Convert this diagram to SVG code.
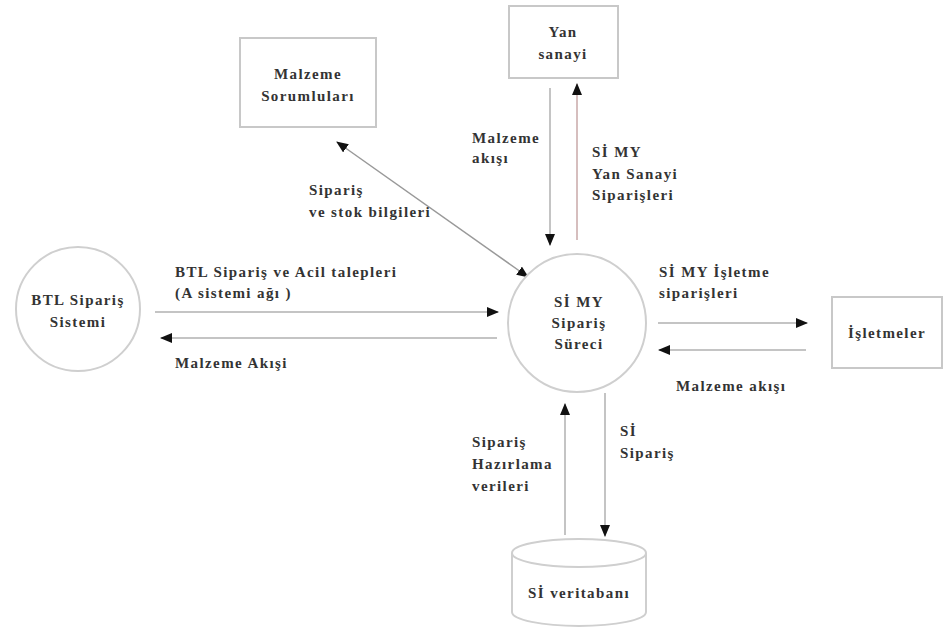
<svg xmlns="http://www.w3.org/2000/svg" width="947" height="631" viewBox="0 0 947 631">
  <style>
    .box { fill: #ffffff; stroke: #c8c8c8; stroke-width: 2; }
    .proc { fill: #ffffff; stroke: #cfcfcf; stroke-width: 2; }
    .flow { stroke: #b0b0b0; stroke-width: 1.5; fill: none; }
    .lbl { font-family: "Liberation Serif", "Times New Roman", serif; font-size: 15px; font-weight: bold; fill: #333333; letter-spacing: 1.4px; }
    .mid { text-anchor: middle; }
  </style>
  <defs>
    <marker id="ah" markerWidth="12" markerHeight="10" refX="11" refY="5" orient="auto" markerUnits="userSpaceOnUse">
      <path d="M0,0 L12,5 L0,10 Z" fill="#111"/>
    </marker>
    <marker id="ahs" markerWidth="12" markerHeight="10" refX="1" refY="5" orient="auto" markerUnits="userSpaceOnUse">
      <path d="M12,0 L0,5 L12,10 Z" fill="#111"/>
    </marker>
  </defs>
  <rect width="947" height="631" fill="#ffffff"/>

  <!-- connectors -->
  <g id="connectors">
    <line class="flow" x1="528" y1="277" x2="337" y2="142" marker-start="url(#ahs)" marker-end="url(#ah)" style="stroke:#999"/>
    <line class="flow" x1="550" y1="88" x2="550" y2="245" marker-end="url(#ah)"/>
    <line class="flow" x1="577" y1="240" x2="577" y2="84" marker-end="url(#ah)" style="stroke:#c9a8a8"/>
    <line class="flow" x1="155" y1="312" x2="498" y2="312" marker-end="url(#ah)"/>
    <line class="flow" x1="497" y1="338" x2="161" y2="338" marker-end="url(#ah)"/>
    <line class="flow" x1="658" y1="323" x2="807" y2="323" marker-end="url(#ah)"/>
    <line class="flow" x1="806" y1="350" x2="659" y2="350" marker-end="url(#ah)"/>
    <line class="flow" x1="565" y1="535" x2="565" y2="404" marker-end="url(#ah)"/>
    <line class="flow" x1="605" y1="393" x2="605" y2="536" marker-end="url(#ah)"/>
  </g>

  <!-- flow labels -->
  <g id="flow-labels">
    <text class="lbl" x="309" y="195">Sipariş</text>
    <text class="lbl" x="309" y="217">ve stok bilgileri</text>
    <text class="lbl" x="472" y="143">Malzeme</text>
    <text class="lbl" x="472" y="163">akışı</text>
    <text class="lbl" x="592" y="157">Sİ MY</text>
    <text class="lbl" x="592" y="179">Yan Sanayi</text>
    <text class="lbl" x="592" y="200">Siparişleri</text>
    <text class="lbl" x="175" y="277">BTL Sipariş  ve Acil talepleri</text>
    <text class="lbl" x="175" y="298">(A sistemi ağı )</text>
    <text class="lbl" x="175" y="368">Malzeme Akışi</text>
    <text class="lbl" x="659" y="277">Sİ MY  İşletme</text>
    <text class="lbl" x="659" y="298">siparişleri</text>
    <text class="lbl" x="676" y="391">Malzeme akışı</text>
    <text class="lbl" x="472" y="447">Sipariş</text>
    <text class="lbl" x="472" y="469">Hazırlama</text>
    <text class="lbl" x="472" y="491">verileri</text>
    <text class="lbl" x="620" y="436">Sİ</text>
    <text class="lbl" x="620" y="458">Sipariş</text>
  </g>

  <!-- nodes -->
  <g id="malzeme-sorumlulari">
    <rect class="box" x="240" y="38" width="136" height="89"/>
    <text class="lbl mid" x="308" y="79">Malzeme</text>
    <text class="lbl mid" x="308" y="101">Sorumluları</text>
  </g>

  <g id="yan-sanayi">
    <rect class="box" x="509" y="6" width="109" height="72"/>
    <text class="lbl mid" x="563" y="37">Yan</text>
    <text class="lbl mid" x="563" y="59">sanayi</text>
  </g>

  <g id="btl-siparis-sistemi">
    <circle class="proc" cx="78" cy="309" r="62"/>
    <text class="lbl mid" x="78" y="305">BTL Sipariş</text>
    <text class="lbl mid" x="78" y="327">Sistemi</text>
  </g>

  <g id="simy-siparis-sureci">
    <circle class="proc" cx="577" cy="323" r="69"/>
    <text class="lbl mid" x="579" y="307">Sİ MY</text>
    <text class="lbl mid" x="579" y="328">Sipariş</text>
    <text class="lbl mid" x="579" y="349">Süreci</text>
  </g>

  <g id="isletmeler">
    <rect class="box" x="832" y="297" width="110" height="71"/>
    <text class="lbl mid" x="887" y="338">İşletmeler</text>
  </g>

  <g id="si-veritabani">
    <path class="proc" d="M512,553 L512,612 A67,14 0 0 0 646,612 L646,553"/>
    <ellipse class="proc" cx="579" cy="553" rx="67" ry="14"/>
    <text class="lbl mid" x="579" y="598">Sİ  veritabanı</text>
  </g>
</svg>
